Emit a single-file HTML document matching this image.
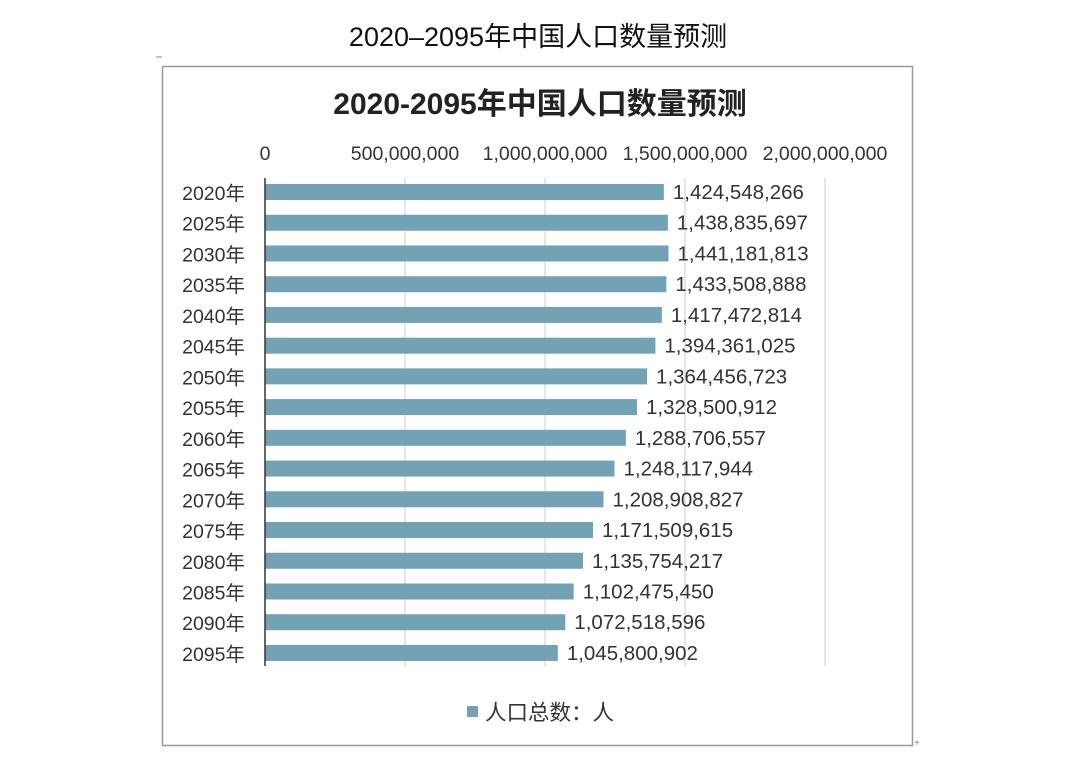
<!DOCTYPE html>
<html><head><meta charset="utf-8"><style>
body{margin:0;background:#fff;width:1080px;height:779px;overflow:hidden;font-family:"Liberation Sans","Noto Sans CJK SC",sans-serif;}
</style></head><body>
<svg width="1080" height="779" xmlns="http://www.w3.org/2000/svg" font-family="Liberation Sans, Noto Sans CJK SC, sans-serif">
<text x="538" y="46" text-anchor="middle" font-size="27" fill="#111">2020–2095年中国人口数量预测</text>
<line x1="156" y1="57" x2="162" y2="57" stroke="#888"/>
<rect x="162.5" y="66.5" width="750" height="679" fill="#fff" stroke="#999" stroke-width="1.5"/>
<text x="540" y="114" text-anchor="middle" font-size="30" font-weight="bold" fill="#222">2020-2095年中国人口数量预测</text>
<g font-size="19.5" fill="#333" text-anchor="middle">
<text x="265" y="160">0</text><text x="405" y="160">500,000,000</text><text x="545" y="160">1,000,000,000</text><text x="685" y="160">1,500,000,000</text><text x="825" y="160">2,000,000,000</text>
</g>
<g stroke="#ddd" stroke-width="1.5">
<line x1="405" y1="178" x2="405" y2="666"/><line x1="545" y1="178" x2="545" y2="666"/><line x1="685" y1="178" x2="685" y2="666"/><line x1="825" y1="178" x2="825" y2="666"/>
</g>
<g id="bars" fill="#73a2b4"></g>
<g id="lab" fill="#333"></g>
<line x1="265" y1="178" x2="265" y2="666" stroke="#333" stroke-width="1.5"/>
<rect x="467" y="706" width="11" height="11" fill="#73a2b4"/>
<text x="485" y="720" font-size="21.5" fill="#333">人口总数：人</text>
<text x="914" y="746" font-size="10" fill="#888">+</text>
<script>
var v=[1424548266,1438835697,1441181813,1433508888,1417472814,1394361025,1364456723,1328500912,1288706557,1248117944,1208908827,1171509615,1135754217,1102475450,1072518596,1045800902];
var b=document.getElementById('bars'),l=document.getElementById('lab'),ns="http://www.w3.org/2000/svg";
v.forEach(function(x,i){var y=192+i*30.73;var w=x/500000000*140;
var r=document.createElementNS(ns,'rect');r.setAttribute('x',265);r.setAttribute('y',y-8);r.setAttribute('width',w);r.setAttribute('height',16);b.appendChild(r);
var t=document.createElementNS(ns,'text');t.setAttribute('x',265+w+9);t.setAttribute('y',y+7);t.setAttribute('font-size','20.5');t.textContent=x.toLocaleString('en-US');l.appendChild(t);
var t2=document.createElementNS(ns,'text');t2.setAttribute('x',245);t2.setAttribute('y',y+8);t2.setAttribute('font-size','19.5');t2.setAttribute('text-anchor','end');t2.textContent=(2020+5*i)+'年';l.appendChild(t2);});
</script>
</svg>
</body></html>
